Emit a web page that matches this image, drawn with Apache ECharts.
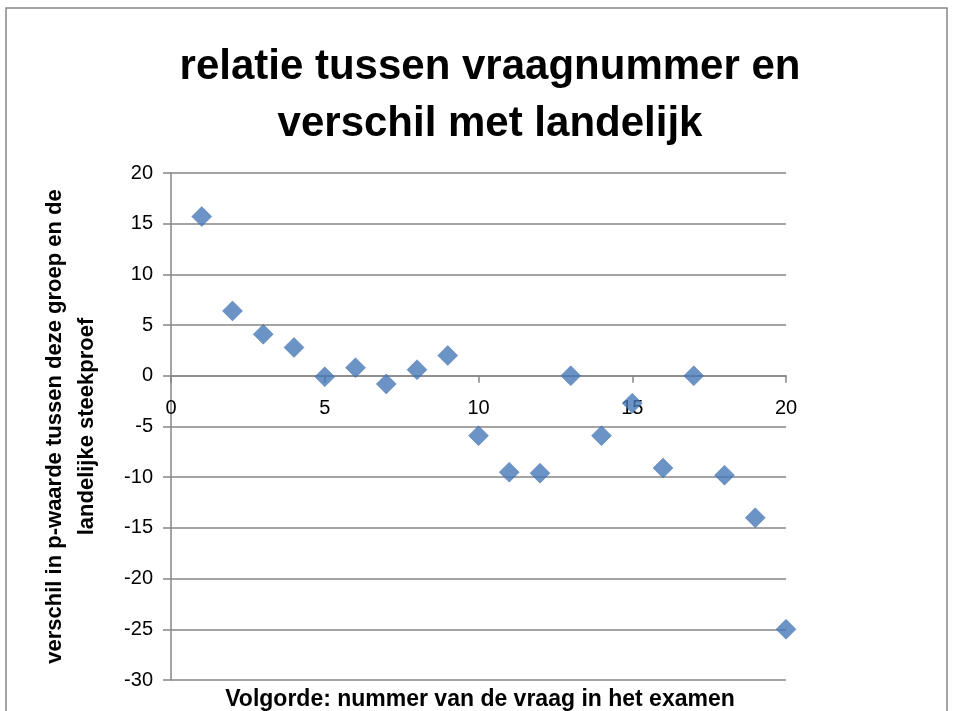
<!DOCTYPE html>
<html>
<head>
<meta charset="utf-8">
<script src="https://cdn.jsdelivr.net/npm/echarts@6/dist/echarts.min.js"></script>
<style>
  html, body { margin: 0; padding: 0; background: #fff; }
  #chart { width: 954px; height: 711px; }
</style>
</head>
<body>
<div id="chart"></div>
<script>
  // vraagnummer en verschil met landelijk (p-waarde)
  const vraagNummers = [1, 2, 3, 4, 5, 6, 7, 8, 9, 10, 11, 12, 13, 14, 15, 16, 17, 18, 19, 20]
  const verschil = [15.7, 6.4, 4.1, 2.8, -0.1, 0.8, -0.8, 0.6, 2.0, -5.9, -9.5, -9.6, 0.0, -5.9, -2.7, -9.1, 0.0, -9.8, -14.0, -25.0]
  const xTicks = [0, 20, 5]     // min, max, interval
  const yTicks = [-30, 20, 5]

  const titleText = 'relatie tussen vraagnummer en\nverschil met landelijk'
  const xName = 'Volgorde: nummer van de vraag in het examen'
  const yName = 'verschil in p-waarde tussen deze groep en de\nlandelijke steekproef'

  const font = 'Liberation Sans, Arial, sans-serif'
  const grey = '#868686'

  /** plot area */
  const grid = { left: 171, right: 168, top: 173, bottom: 31 }
  const plotHeight = 711 - grid.top - grid.bottom
  // x-as ligt op y = 0: afstand van de onderkant van het plotvlak
  const zeroOffset = plotHeight * (0 - yTicks[0]) / (yTicks[1] - yTicks[0])

  const chart = echarts.init(document.getElementById('chart'))
  chart.setOption({
    animation: false,
    graphic: [
      {
        type: 'rect',
        shape: { x: 6, y: 8, width: 941, height: 720 },
        style: { fill: 'none', stroke: grey, lineWidth: 1.5 }
      }
    ],
    title: [
      {
        text: titleText,
        left: 485,
        top: 34,
        textAlign: 'center',
        textStyle: { fontFamily: font, fontSize: 42, fontWeight: 'bold', color: '#000', lineHeight: 57 }
      },
      {
        text: xName,
        left: 475,
        top: 683,
        textAlign: 'center',
        textStyle: { fontFamily: font, fontSize: 23, fontWeight: 'bold', color: '#000' }
      }
    ],
    grid: grid,
    xAxis: {
      type: 'value',
      min: xTicks[0],
      max: xTicks[1],
      interval: xTicks[2],
      offset: -zeroOffset,
      axisLine: { onZero: false, lineStyle: { color: grey, width: 1.5 } },
      axisTick: { show: true, length: 7, lineStyle: { color: grey, width: 1.5 } },
      axisLabel: { color: '#000', fontSize: 20, fontFamily: font, margin: 23 },
      splitLine: { show: false }
    },
    yAxis: {
      type: 'value',
      min: yTicks[0],
      max: yTicks[1],
      interval: yTicks[2],
      name: yName,
      nameLocation: 'middle',
      nameGap: 68,
      nameRotate: 90,
      nameTextStyle: { fontFamily: font, fontSize: 22, fontWeight: 'bold', color: '#000', lineHeight: 32 },
      axisLine: { show: true, lineStyle: { color: grey, width: 1.5 } },
      axisTick: { show: true, length: 8, lineStyle: { color: grey, width: 1.5 } },
      axisLabel: { color: '#000', fontSize: 20, fontFamily: font, margin: 18 },
      splitLine: { show: true, lineStyle: { color: grey, width: 1.5 } }
    },
    series: [
      {
        type: 'scatter',
        symbol: 'diamond',
        symbolSize: 20,
        itemStyle: { color: '#4678B8', borderColor: '#3C6AA5', borderWidth: 0.5 },
        data: vraagNummers.map((v, i) => [v, verschil[i]])
      }
    ]
  })
</script>
</body>
</html>
